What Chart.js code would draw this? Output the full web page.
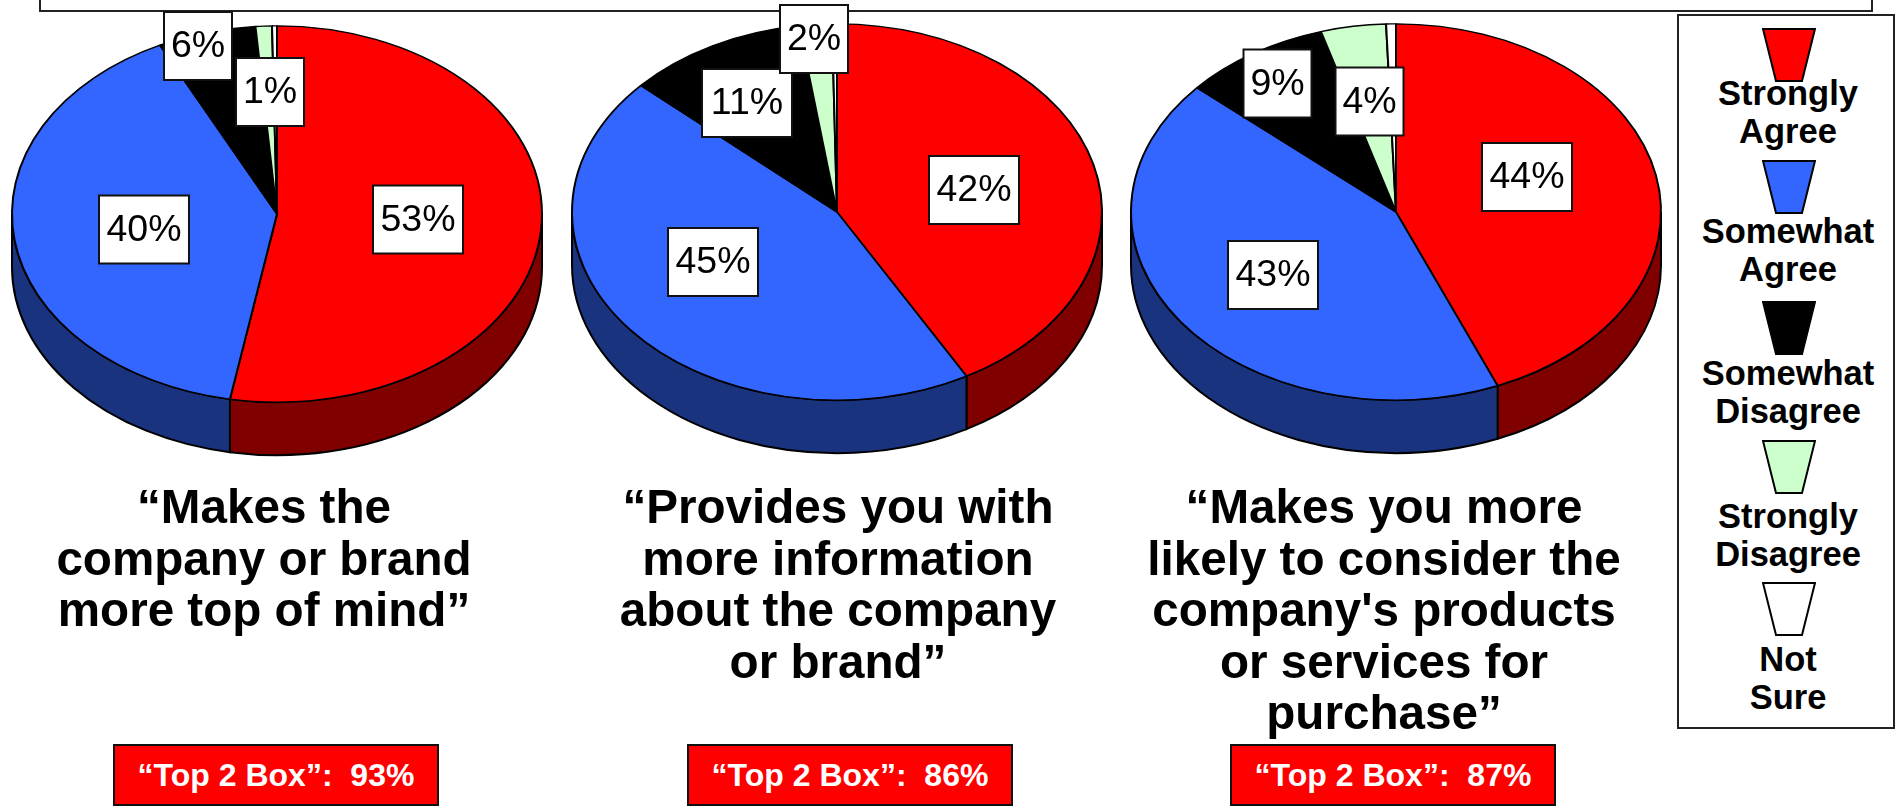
<!DOCTYPE html>
<html>
<head>
<meta charset="utf-8">
<title>Top 2 Box</title>
<script src="https://cdn.jsdelivr.net/npm/chart.js@4/dist/chart.umd.min.js"></script>
<style>
    html, body { margin: 0; height: 100%; overflow: hidden; background: #fff; }
    body { position: relative; font-family: "Liberation Sans", Arial, sans-serif; color: #000; }
    canvas { position: absolute; }
    .header { position: absolute; left: 39px; top: -10px; width: 1830px; height: 18px; border: 2px solid #222; }
    .title { position: absolute; top: 481px; width: 640px; text-align: center; font-weight: bold; font-size: 47.6px; line-height: 51.6px; }
    .topbox { position: absolute; top: 744px; height: 58px; line-height: 58px; background: #f00; border: 2px solid #111; color: #fff; font-weight: bold; font-size: 32px; text-align: center; white-space: pre; }
    .legend { position: absolute; left: 1677px; top: 14px; width: 214px; height: 711px; border: 2px solid #222; }
    .legend svg { position: absolute; left: 83px; }
    .legend div { position: absolute; left: 2px; width: 100%; text-align: center; font-weight: bold; font-size: 34.5px; line-height: 38px; }
</style>
</head>
<body>
<div class="header"></div>
<div class="legend" id="legend"></div>

<script>
const categories = ['Strongly Agree', 'Somewhat Agree', 'Somewhat Disagree', 'Strongly Disagree', 'Not Sure'];

const topOfMindValues = [53, 40, 6, 1, 0.3];
const informationValues = [42, 45, 11, 2, 0.3];
const considerValues = [44, 43, 9, 4, 0.6];

const topOfMindTitle = ['“Makes the', 'company or brand', 'more top of mind”'];
const informationTitle = ['“Provides you with', 'more information', 'about the company', 'or brand”'];
const considerTitle = ['“Makes you more', 'likely to consider the', 'company\'s products', 'or services for', 'purchase”'];

const topOfMindBox = '“Top 2 Box”:  93%';
const informationBox = '“Top 2 Box”:  86%';
const considerBox = '“Top 2 Box”:  87%';

const sliceColors = ['#ff0000', '#3366ff', '#000000', '#ccffcc', '#ffffff'];
const wallColors = ['#800000', '#1a337f', '#000000', '#668066', '#808080'];

const RADIUS = 265;
const SQUASH = 0.71;
const DEPTH = 53;
const CANVAS_SIZE = 560;

// flattens the pie into an ellipse and puts the rim under it
const tiltedPie = {
    id: 'tiltedPie',
    beforeDatasetsDraw(chart) {
        const ctx = chart.ctx;
        const arcs = chart.getDatasetMeta(0).data;
        const { x, y } = arcs[0];

        arcs.forEach((arc, i) => {
            const start = Math.max(arc.startAngle, 0);
            const end = Math.min(arc.endAngle, Math.PI);
            if (end <= start) return;

            ctx.save();
            ctx.translate(x, y);
            ctx.scale(1, SQUASH);
            ctx.beginPath();
            ctx.arc(0, 0, arc.outerRadius, start, end);
            ctx.arc(0, DEPTH / SQUASH, arc.outerRadius, end, start, true);
            ctx.closePath();
            ctx.restore();

            ctx.fillStyle = wallColors[i];
            ctx.fill();
            ctx.lineWidth = 2;
            ctx.strokeStyle = '#000';
            ctx.stroke();
        });

        ctx.save();
        ctx.translate(x, y);
        ctx.scale(1, SQUASH);
        ctx.translate(-x, -y);
    },
    afterDatasetsDraw(chart, args, options) {
        const ctx = chart.ctx;
        ctx.restore();

        const { x, y } = chart.getDatasetMeta(0).data[0];
        const values = chart.data.datasets[0].data;

        options.labelOffsets.forEach(([dx, dy], i) => {
            const text = values[i] + '%';
            const boxWidth = text.length > 2 ? 90 : 68;
            const boxHeight = 68;
            ctx.fillStyle = '#fff';
            ctx.strokeStyle = '#111';
            ctx.lineWidth = 2;
            ctx.fillRect(x + dx - boxWidth / 2, y + dy - boxHeight / 2, boxWidth, boxHeight);
            ctx.strokeRect(x + dx - boxWidth / 2, y + dy - boxHeight / 2, boxWidth, boxHeight);
            ctx.fillStyle = '#000';
            ctx.font = '37.5px "Liberation Sans", Arial, sans-serif';
            ctx.textAlign = 'center';
            ctx.textBaseline = 'middle';
            ctx.fillText(text, x + dx, y + dy + 1);
        });
    }
};

const makePie = (values, centerX, centerY, labelOffsets) => {
    const canvas = document.createElement('canvas');
    canvas.width = CANVAS_SIZE;
    canvas.height = CANVAS_SIZE;
    canvas.style.left = (centerX - CANVAS_SIZE / 2) + 'px';
    canvas.style.top = (centerY - CANVAS_SIZE / 2) + 'px';
    document.body.append(canvas);

    return new Chart(canvas.getContext('2d'), {
        type: 'pie',
        data: {
            labels: categories,
            datasets: [{
                data: values,
                backgroundColor: sliceColors,
                borderColor: '#000',
                borderWidth: 2
            }]
        },
        options: {
            responsive: false,
            animation: false,
            radius: RADIUS,
            events: [],
            plugins: {
                legend: { display: false },
                tooltip: { enabled: false },
                tiltedPie: { labelOffsets }
            }
        },
        plugins: [tiltedPie]
    });
};

makePie(topOfMindValues, 277, 213.5, [[141, 5.5], [-133, 15.5], [-79, -168], [-7, -122]]);
makePie(informationValues, 836.5, 212, [[137, -22], [-124, 50], [-90, -109], [-23, -173]]);
makePie(considerValues, 1396, 212, [[131, -35], [-123, 63], [-118.5, -128.5], [-26.5, -110.5]]);

const addTitle = (lines, centerX) => {
    const title = document.createElement('div');
    title.className = 'title';
    title.style.left = (centerX - 320) + 'px';
    title.innerHTML = lines.join('<br>');
    document.body.append(title);
};

addTitle(topOfMindTitle, 264);
addTitle(informationTitle, 838);
addTitle(considerTitle, 1384);

const addTopBox = (text, left, width) => {
    const box = document.createElement('div');
    box.className = 'topbox';
    box.style.left = left + 'px';
    box.style.width = (width - 4) + 'px';
    box.textContent = text;
    document.body.append(box);
};

addTopBox(topOfMindBox, 113, 326);
addTopBox(informationBox, 687, 326);
addTopBox(considerBox, 1230, 326);

// legend entries: swatch top and first text line, relative to the frame
const legendSwatchTops = [12, 144, 285, 424, 566];
const legendTextTops = [58, 196, 338, 481, 624];
const legend = document.getElementById('legend');

categories.forEach((name, i) => {
    const swatch = document.createElementNS('http://www.w3.org/2000/svg', 'svg');
    swatch.setAttribute('width', 54);
    swatch.setAttribute('height', 56);
    swatch.style.top = legendSwatchTops[i] + 'px';
    swatch.innerHTML = `<polygon points="1,1 53,1 40,53 14,53" fill="${sliceColors[i]}" stroke="#000" stroke-width="2"/>`;
    legend.append(swatch);

    const label = document.createElement('div');
    label.style.top = legendTextTops[i] + 'px';
    label.innerHTML = name.split(' ').join('<br>');
    legend.append(label);
});
</script>
</body>
</html>
